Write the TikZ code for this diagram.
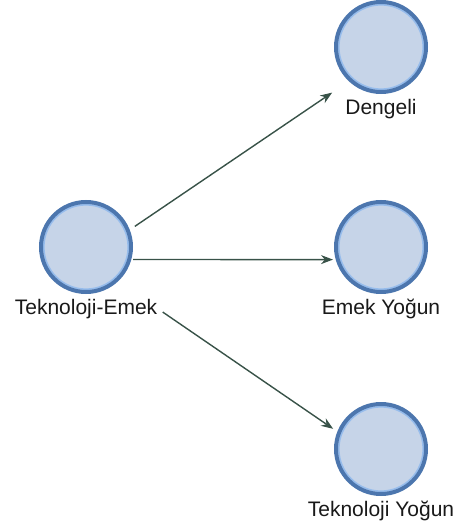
\documentclass[tikz,border=0pt]{standalone}
\usepackage{fontspec}
\setmainfont{Liberation Sans}
\usetikzlibrary{arrows.meta,positioning,fit}

\definecolor{entfill}{RGB}{198,212,232}
\definecolor{entborder}{RGB}{76,118,174}
\definecolor{entinner}{RGB}{150,188,236}
\definecolor{linkcol}{RGB}{56,82,72}

\begin{document}
\begin{tikzpicture}[
  x=1pt, y=-1pt,
  node distance=5pt,
  entity/.style={circle, draw=entborder, fill=entfill, line width=4pt, minimum size=90pt, inner sep=0pt,
    path picture={\draw[entinner, line width=1.6pt] (path picture bounding box.center) circle (42.2pt);}},
  entlabel/.style={font=\fontsize{21}{24}\selectfont, inner sep=0pt, text=black!90},
  grp/.style={inner sep=0pt},
  link/.style={-{Stealth[length=12pt,width=9pt]}, line width=1.4pt, draw=linkcol}
]
\useasboundingbox (0,0) rectangle (461,529);
\node[entity] (te) at (86,247) {};
\node[entlabel, below=of te] (teL) {Teknoloji-Emek};
\node[entity] (dg) at (381,47) {};
\node[entlabel, below=of dg] (dgL) {Dengeli};
\node[entity] (ey) at (381,247) {};
\node[entlabel, below=of ey] (eyL) {Emek Yoğun};
\node[entity] (ty) at (381,449) {};
\node[entlabel, below=of ty] (tyL) {Teknoloji Yoğun};
\node[grp, fit=(te)(teL)] (teG) {};
\node[grp, fit=(dg)(dgL)] (dgG) {};
\node[grp, fit=(ey)(eyL)] (eyG) {};
\node[grp, fit=(ty)(tyL)] (tyG) {};
\draw[link, shorten <=59pt, shorten >=59pt] (teG.center) -- (dgG.center);
\draw[link, shorten <=47pt, shorten >=48pt] (teG.center) -- (eyG.center);
\draw[link, shorten <=93pt, shorten >=58pt] (teG.center) -- (tyG.center);
\end{tikzpicture}
\end{document}
